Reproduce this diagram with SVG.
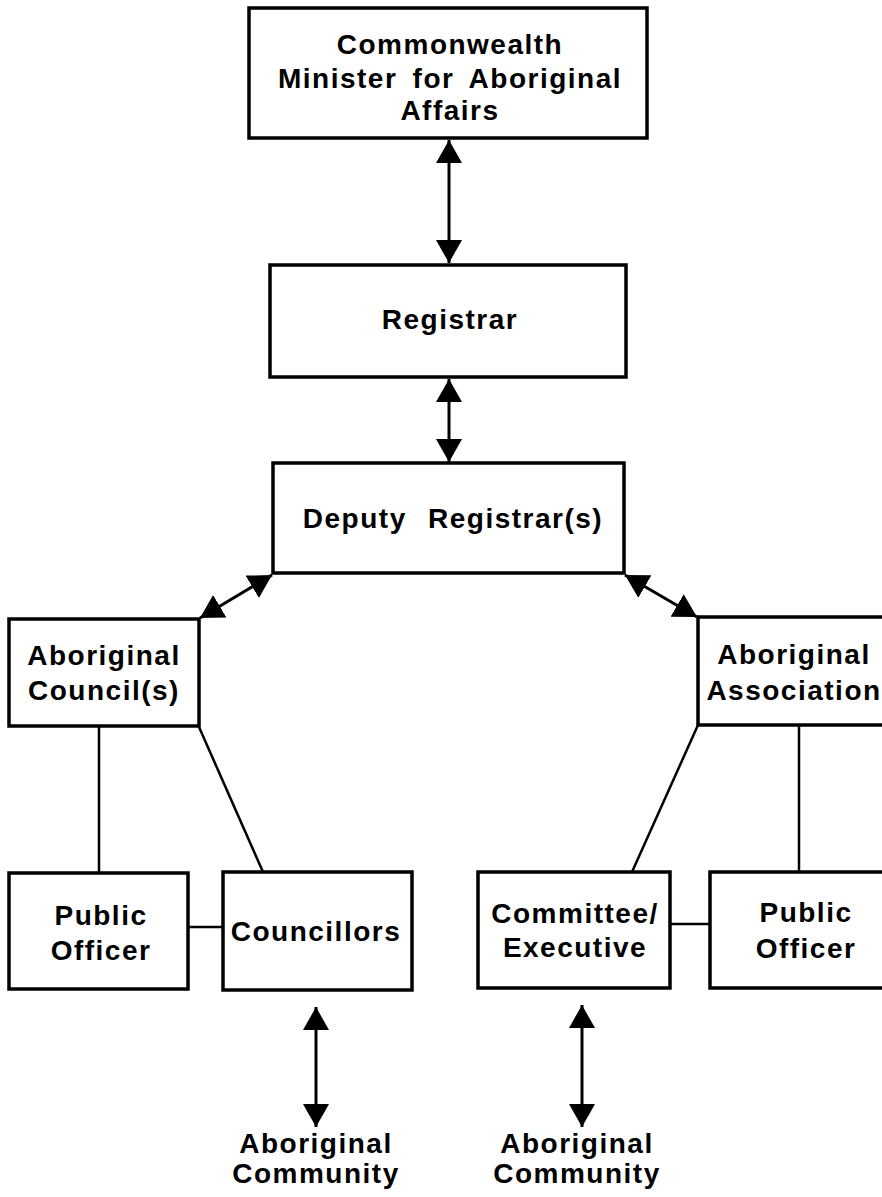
<svg xmlns="http://www.w3.org/2000/svg" width="882" height="1197" viewBox="0 0 882 1197">
<style>
.box{fill:#fff;stroke:#000;stroke-width:3.5}
.lbl{font-family:"Liberation Sans",Arial,Helvetica,sans-serif;font-weight:bold;font-size:28px;letter-spacing:1.5px;word-spacing:6px;text-anchor:middle;fill:#000}
.arr{stroke:#000;stroke-width:3;fill:none;marker-start:url(#ah);marker-end:url(#ah)}
.ln{stroke:#000;stroke-width:2.5;fill:none}
</style>
<defs>
<marker id="ah" markerUnits="userSpaceOnUse" markerWidth="24" markerHeight="26" refX="23" refY="13" orient="auto-start-reverse">
<path d="M0,0 L23,13 L0,26 Z" fill="#000"/>
</marker>
</defs>
<rect width="882" height="1197" fill="#fff"/>
<g id="connectors">
<line class="arr" x1="449" y1="140" x2="449" y2="263"/>
<line class="arr" x1="449" y1="379" x2="449" y2="462"/>
<line class="arr" x1="272" y1="575" x2="200" y2="618"/>
<line class="arr" x1="625" y1="575" x2="697" y2="617"/>
<line class="arr" x1="316" y1="1007" x2="316" y2="1127"/>
<line class="arr" x1="582" y1="1005" x2="582" y2="1127"/>
<line class="ln" x1="99" y1="727" x2="99" y2="873"/>
<line class="ln" x1="199" y1="727" x2="263" y2="872"/>
<line class="ln" x1="188" y1="927" x2="223" y2="927"/>
<line class="ln" x1="698" y1="725" x2="632" y2="872"/>
<line class="ln" x1="799" y1="725" x2="799" y2="872"/>
<line class="ln" x1="670" y1="924" x2="710" y2="924"/>
</g>
<g id="minister">
<rect class="box" x="249" y="8" width="398" height="130"/>
<text class="lbl" x="450" y="54">Commonwealth</text>
<text class="lbl" x="450" y="88">Minister for Aboriginal</text>
<text class="lbl" x="450" y="120">Affairs</text>
</g>
<g id="registrar">
<rect class="box" x="270" y="265" width="356" height="112"/>
<text class="lbl" x="450" y="329">Registrar</text>
</g>
<g id="deputy">
<rect class="box" x="273" y="463" width="351" height="110"/>
<text class="lbl" x="453" y="528" style="word-spacing:12px">Deputy Registrar(s)</text>
</g>
<g id="council">
<rect class="box" x="9" y="619" width="190" height="107"/>
<text class="lbl" x="104" y="665">Aboriginal</text>
<text class="lbl" x="104" y="700">Council(s)</text>
</g>
<g id="association">
<rect class="box" x="698" y="617" width="200" height="108"/>
<text class="lbl" x="794" y="664">Aboriginal</text>
<text class="lbl" x="794" y="700">Association</text>
</g>
<g id="public-officer-left">
<rect class="box" x="9" y="873" width="179" height="116"/>
<text class="lbl" x="101" y="925">Public</text>
<text class="lbl" x="101" y="960">Officer</text>
</g>
<g id="councillors">
<rect class="box" x="223" y="872" width="189" height="118"/>
<text class="lbl" x="316" y="941">Councillors</text>
</g>
<g id="committee">
<rect class="box" x="478" y="872" width="192" height="116"/>
<text class="lbl" x="575" y="923">Committee/</text>
<text class="lbl" x="575" y="957">Executive</text>
</g>
<g id="public-officer-right">
<rect class="box" x="710" y="872" width="200" height="116"/>
<text class="lbl" x="806" y="922">Public</text>
<text class="lbl" x="806" y="958">Officer</text>
</g>
<g id="community-left">
<text class="lbl" x="316" y="1153">Aboriginal</text>
<text class="lbl" x="316" y="1183">Community</text>
</g>
<g id="community-right">
<text class="lbl" x="577" y="1153">Aboriginal</text>
<text class="lbl" x="577" y="1183">Community</text>
</g>
</svg>
